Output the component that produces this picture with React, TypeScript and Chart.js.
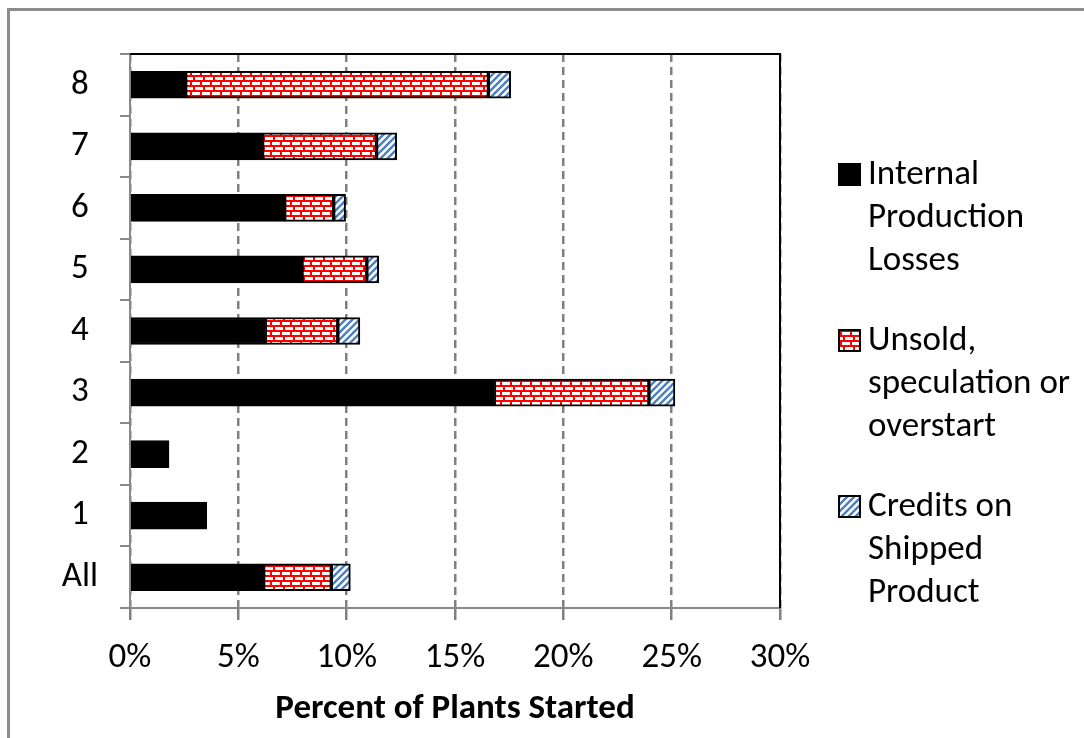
import React, { useEffect, useRef } from 'react';
import { Chart, registerables } from 'chart.js';

Chart.register(...registerables);

const categories = ['8', '7', '6', '5', '4', '3', '2', '1', 'All'];
const internalLosses = [2.57, 6.12, 7.14, 7.94, 6.25, 16.82, 1.8, 3.54, 6.17];
const unsoldOverstart = [13.97, 5.26, 2.26, 2.99, 3.34, 7.13, null, null, 3.12];
const shippedCredits = [1.03, 0.93, 0.55, 0.55, 1.02, 1.2, null, null, 0.88];
const seriesNames = [
  ['Internal', 'Production', 'Losses'],
  ['Unsold,', 'speculation or', 'overstart'],
  ['Credits on', 'Shipped', 'Product'],
];
const xTicks = [0, 5, 10, 15, 20, 25, 30];
const axisTitle = 'Percent of Plants Started';

const FONT = 'Carlito, Lato, sans-serif';
const FS = 35;

function makeBrick(): CanvasPattern | string {
  const c = document.createElement('canvas');
  c.width = 10;
  c.height = 10;
  const g = c.getContext('2d');
  if (!g) return '#f00';
  g.fillStyle = '#ff0000';
  g.fillRect(0, 0, 10, 10);
  g.fillStyle = '#ffffff';
  g.fillRect(2, 2, 8, 3);
  g.fillRect(0, 7, 3, 3);
  g.fillRect(5, 7, 5, 3);
  return g.createPattern(c, 'repeat') as CanvasPattern;
}

function makeStripes(): CanvasPattern | string {
  const c = document.createElement('canvas');
  c.width = 7;
  c.height = 7;
  const g = c.getContext('2d');
  if (!g) return '#4a7fc0';
  g.fillStyle = '#ffffff';
  g.fillRect(0, 0, 7, 7);
  g.strokeStyle = '#4a7fc0';
  g.lineWidth = 2.4;
  g.beginPath();
  g.moveTo(-1, 8);
  g.lineTo(8, -1);
  g.moveTo(-5, 5);
  g.lineTo(5, -5);
  g.moveTo(2, 12);
  g.lineTo(12, 2);
  g.stroke();
  return g.createPattern(c, 'repeat') as CanvasPattern;
}

export default function App() {
  const ref = useRef<HTMLCanvasElement | null>(null);

  useEffect(() => {
    if (!ref.current) return;
    const brick = makeBrick();
    const stripes = makeStripes();
    const fills = ['#000000', brick, stripes];

    const frameLines = {
      id: 'frameLines',
      afterDatasetsDraw(chart: any) {
        const { ctx, chartArea } = chart;
        ctx.save();
        ctx.strokeStyle = '#000';
        ctx.lineWidth = 2;
        ctx.beginPath();
        ctx.moveTo(chartArea.left, chartArea.top);
        ctx.lineTo(chartArea.right, chartArea.top);
        ctx.lineTo(chartArea.right, chartArea.bottom);
        ctx.stroke();
        ctx.restore();
      },
    };

    const legendPlugin = {
      id: 'sideLegend',
      afterDraw(chart: any) {
        const ctx = chart.ctx;
        ctx.save();
        ctx.font = `${FS}px ${FONT}`;
        ctx.textBaseline = 'middle';
        ctx.textAlign = 'left';
        seriesNames.forEach((lines, i) => {
          const y0 = 175 + i * 166;
          ctx.fillStyle = fills[i];
          ctx.fillRect(839, y0 - 11, 21, 21);
          ctx.strokeStyle = '#000';
          ctx.lineWidth = 2;
          ctx.strokeRect(839, y0 - 11, 21, 21);
          ctx.fillStyle = '#000';
          lines.forEach((t, j) => {
            ctx.fillText(t, 868, y0 + j * 43);
          });
        });
        ctx.restore();
      },
    };

    const mk = (label: string, data: (number | null)[], bg: any) => ({
      label,
      data,
      backgroundColor: bg,
      borderColor: '#000000',
      borderWidth: 2,
      borderSkipped: false,
      barThickness: 27,
    });

    const chart = new Chart(ref.current, {
      type: 'bar',
      data: {
        labels: categories,
        datasets: [
          mk(seriesNames[0].join(' '), internalLosses, fills[0]),
          mk(seriesNames[1].join(' '), unsoldOverstart, fills[1]),
          mk(seriesNames[2].join(' '), shippedCredits, fills[2]),
        ],
      },
      options: {
        indexAxis: 'y',
        animation: false,
        responsive: true,
        maintainAspectRatio: false,
        layout: { padding: { top: 54, right: 304, left: 0, bottom: 0 } },
        plugins: {
          legend: { display: false },
          tooltip: { enabled: false },
        },
        scales: {
          x: {
            stacked: true,
            min: 0,
            max: 30,
            afterBuildTicks: (s: any) => {
              s.ticks = xTicks.map((v) => ({ value: v }));
            },
            afterFit: (s: any) => {
              s.height = 130;
            },
            ticks: {
              callback: (v: any) => v + '%',
              font: { family: FONT, size: FS },
              color: '#000',
              padding: 17,
              maxRotation: 0,
            },
            grid: {
              color: '#808080',
              lineWidth: 2.5,
              tickLength: 12,
            },
            border: { color: '#888888', width: 2, dash: [8, 5] },
            title: {
              display: true,
              text: axisTitle,
              font: { family: FONT, size: FS, weight: 'bold' },
              color: '#000',
              padding: { top: 0, bottom: 8 },
            },
          },
          y: {
            stacked: true,
            afterFit: (s: any) => {
              s.width = 130;
            },
            ticks: {
              font: { family: FONT, size: FS },
              color: '#000',
              crossAlign: 'center',
              padding: 22,
            },
            grid: {
              drawOnChartArea: false,
              color: '#888888',
              lineWidth: 2,
              tickLength: 10,
            },
            border: { color: '#888888', width: 2 },
          },
        },
      },
      plugins: [frameLines, legendPlugin],
    } as any);

    return () => chart.destroy();
  }, []);

  return (
    <div
      style={{
        position: 'fixed',
        left: 0,
        top: 0,
        width: 1084,
        height: 738,
        overflow: 'hidden',
        background: '#fff',
      }}
    >
      <div
        style={{
          position: 'absolute',
          left: 7,
          top: 8,
          width: 1200,
          height: 900,
          border: '3px solid #8c8c8c',
          boxSizing: 'border-box',
        }}
      />
      <div style={{ position: 'absolute', left: 0, top: 0, width: 1084, height: 738 }}>
        <canvas ref={ref} />
      </div>
    </div>
  );
}
